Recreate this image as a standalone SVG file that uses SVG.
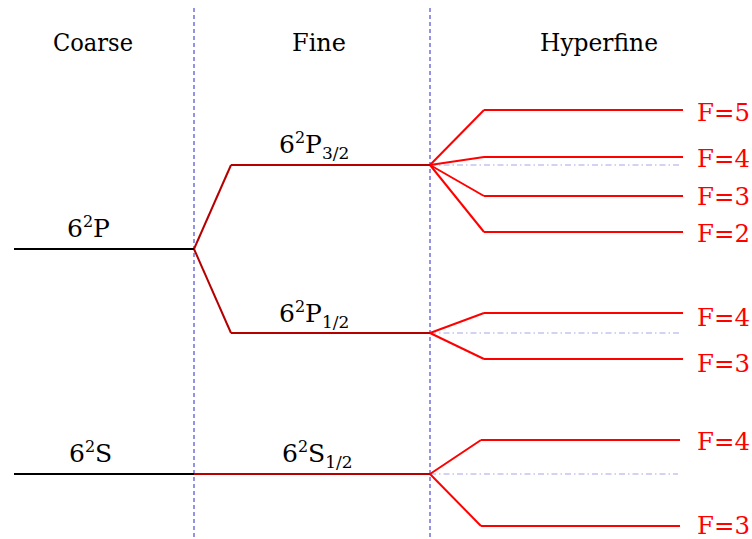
<svg xmlns="http://www.w3.org/2000/svg" width="752" height="539" viewBox="0 0 752 539">
<style>
text{font-family:'DejaVu Serif','Liberation Serif','Times New Roman',serif;font-size:25px;fill:#000}
.title{text-anchor:middle}
.f{fill:#ff0000}
.sup{font-size:16px}
.sub{font-size:17px}
.coarse{stroke:#000;stroke-width:2;fill:none}
.fine{stroke:#b50000;stroke-width:2;fill:none}
.hf{stroke:#ff0000;stroke-width:2;fill:none}
.sep{stroke:#9393e3;stroke-width:2;stroke-dasharray:4,3;fill:none}
.ref{stroke:#c4c4ee;stroke-width:1.6;stroke-dasharray:6,3,1.5,3;fill:none}
</style>
<g id="separators">
<line class="sep" x1="194" y1="8" x2="194" y2="537"/>
<line class="sep" x1="430" y1="8" x2="430" y2="537"/>
</g>
<g id="titles">
<text class="title" x="93" y="51" textLength="80" lengthAdjust="spacingAndGlyphs">Coarse</text>
<text class="title" x="319" y="51" textLength="54" lengthAdjust="spacingAndGlyphs">Fine</text>
<text class="title" x="599" y="51" textLength="118" lengthAdjust="spacingAndGlyphs">Hyperfine</text>
</g>
<g id="reference-lines">
<line class="ref" x1="430" y1="165" x2="680" y2="165"/>
<line class="ref" x1="430" y1="333" x2="680" y2="333"/>
<line class="ref" x1="430" y1="474" x2="678" y2="474"/>
</g>
<g id="connectors">
<polyline class="fine" points="194,249 231,165"/>
<polyline class="fine" points="194,249 231,333"/>
<line class="hf" x1="430" y1="165" x2="484" y2="110"/>
<line class="hf" x1="430" y1="165" x2="484" y2="157"/>
<line class="hf" x1="430" y1="165" x2="484" y2="196"/>
<line class="hf" x1="430" y1="165" x2="484" y2="232"/>
<line class="hf" x1="430" y1="333" x2="484" y2="313"/>
<line class="hf" x1="430" y1="333" x2="484" y2="359"/>
<line class="hf" x1="430" y1="474" x2="481" y2="440"/>
<line class="hf" x1="430" y1="474" x2="481" y2="526"/>
</g>
<g id="coarse-6P">
<line class="coarse" x1="14" y1="249" x2="194" y2="249"/>
<text x="67" y="237">6<tspan class="sup" dy="-10">2</tspan><tspan dy="10">P</tspan></text>
</g>
<g id="coarse-6S">
<line class="coarse" x1="14" y1="474" x2="194" y2="474"/>
<text x="69" y="462">6<tspan class="sup" dy="-10">2</tspan><tspan dy="10">S</tspan></text>
</g>
<g id="fine-6P32">
<line class="fine" x1="231" y1="165" x2="430" y2="165"/>
<text x="279" y="153">6<tspan class="sup" dy="-10">2</tspan><tspan dy="10">P</tspan><tspan class="sub" dy="6">3/2</tspan></text>
</g>
<g id="fine-6P12">
<line class="fine" x1="231" y1="333" x2="430" y2="333"/>
<text x="279" y="322">6<tspan class="sup" dy="-10">2</tspan><tspan dy="10">P</tspan><tspan class="sub" dy="6">1/2</tspan></text>
</g>
<g id="fine-6S12">
<line class="fine" x1="194" y1="474" x2="430" y2="474"/>
<text x="282" y="462">6<tspan class="sup" dy="-10">2</tspan><tspan dy="10">S</tspan><tspan class="sub" dy="6">1/2</tspan></text>
</g>
<g id="hf-P32-F5">
<line class="hf" x1="484" y1="110" x2="683" y2="110"/>
<text class="f" x="697" y="121" textLength="53" lengthAdjust="spacingAndGlyphs">F=5</text>
</g>
<g id="hf-P32-F4">
<line class="hf" x1="484" y1="157" x2="683" y2="157"/>
<text class="f" x="697" y="167" textLength="53" lengthAdjust="spacingAndGlyphs">F=4</text>
</g>
<g id="hf-P32-F3">
<line class="hf" x1="484" y1="196" x2="683" y2="196"/>
<text class="f" x="697" y="205" textLength="53" lengthAdjust="spacingAndGlyphs">F=3</text>
</g>
<g id="hf-P32-F2">
<line class="hf" x1="484" y1="232" x2="683" y2="232"/>
<text class="f" x="697" y="242" textLength="53" lengthAdjust="spacingAndGlyphs">F=2</text>
</g>
<g id="hf-P12-F4">
<line class="hf" x1="484" y1="313" x2="683" y2="313"/>
<text class="f" x="697" y="326" textLength="53" lengthAdjust="spacingAndGlyphs">F=4</text>
</g>
<g id="hf-P12-F3">
<line class="hf" x1="484" y1="359" x2="683" y2="359"/>
<text class="f" x="697" y="372" textLength="53" lengthAdjust="spacingAndGlyphs">F=3</text>
</g>
<g id="hf-S12-F4">
<line class="hf" x1="481" y1="440" x2="680" y2="440"/>
<text class="f" x="697" y="450" textLength="53" lengthAdjust="spacingAndGlyphs">F=4</text>
</g>
<g id="hf-S12-F3">
<line class="hf" x1="481" y1="526" x2="680" y2="526"/>
<text class="f" x="697" y="534" textLength="53" lengthAdjust="spacingAndGlyphs">F=3</text>
</g>
</svg>
